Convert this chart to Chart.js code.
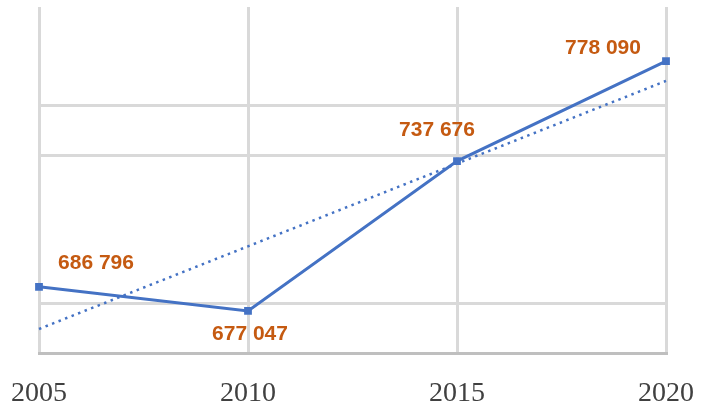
<!DOCTYPE html>
<html>
<head>
<meta charset="utf-8">
<script src="https://cdn.jsdelivr.net/npm/chart.js@4/dist/chart.umd.min.js"></script>
<style>
  html, body { margin: 0; padding: 0; background: #ffffff; }
  #wrap { width: 707px; height: 407px; position: relative; }
</style>
</head>
<body>
<div id="wrap"><canvas id="chart"></canvas></div>
<script>
const years = ["2005", "2010", "2015", "2020"]
const population = [686796, 677047, 737676, 778090]
const gridValues = [680000, 740000, 760000]

// linear trend (least squares) over the series
function linearTrend(values) {
  const n = values.length
  const mx = (n - 1) / 2
  const my = values.reduce((a, b) => a + b, 0) / n
  let num = 0, den = 0
  values.forEach((v, i) => { num += (i - mx) * (v - my); den += (i - mx) * (i - mx) })
  const slope = num / den
  return values.map((_, i) => my + slope * (i - mx))
}

const fmt = (v) => String(Math.round(v)).replace(/\B(?=(\d{3})+(?!\d))/g, " ")

// value labels next to each point of the first dataset
const valueLabels = {
  id: "valueLabels",
  afterDatasetsDraw(chart, args, opts) {
    const ctx = chart.ctx
    const meta = chart.getDatasetMeta(0)
    ctx.save()
    ctx.font = opts.font
    ctx.fillStyle = opts.color
    ctx.textAlign = "center"
    ctx.textBaseline = "middle"
    meta.data.forEach((pt, i) => {
      const off = opts.offsets[i]
      ctx.fillText(fmt(chart.data.datasets[0].data[i]), pt.x + off[0], pt.y + off[1])
    })
    ctx.restore()
  }
}

const ctx = document.getElementById("chart").getContext("2d")
new Chart(ctx, {
  type: "line",
  data: {
    labels: years,
    datasets: [
      {
        label: "Population",
        data: population,
        borderColor: "#4472c4",
        backgroundColor: "#4472c4",
        borderWidth: 3,
        pointStyle: "rect",
        pointRadius: 5.5,
        pointBorderWidth: 0,
        tension: 0,
        order: 0,
      },
      {
        label: "Trend",
        data: linearTrend(population),
        borderColor: "#4472c4",
        borderWidth: 2.5,
        borderDash: [2.5, 4.5],
        pointRadius: 0,
        tension: 0,
        order: 1,
      },
    ],
  },
  options: {
    responsive: true,
    maintainAspectRatio: false,
    animation: false,
    layout: { padding: { left: 39, right: 41, top: 7, bottom: 0 } },
    scales: {
      x: {
        offset: false,
        grid: { color: "#d9d9d9", lineWidth: 3, drawTicks: false },
        border: { color: "#bfbfbf", width: 3 },
        ticks: {
          padding: 24,
          color: "#404040",
          font: { family: "'Liberation Serif', serif", size: 28 },
          maxRotation: 0,
        },
        afterFit: (scale) => {
          scale.height = 54
          scale.paddingLeft = 0
          scale.paddingRight = 0
        },
      },
      y: {
        min: 660000,
        max: 800000,
        ticks: { stepSize: 20000, display: false },
        border: { display: false },
        grid: {
          drawTicks: false,
          lineWidth: 3,
          color: (c) => gridValues.includes(c.tick && c.tick.value) ? "#d9d9d9" : "rgba(0,0,0,0)",
        },
        afterFit: (scale) => { scale.width = 0 },
      },
    },
    plugins: {
      legend: { display: false },
      tooltip: { enabled: false },
      valueLabels: {
        font: "bold 21px 'Liberation Sans', Arial, sans-serif",
        color: "#c55a11",
        offsets: [[57, -24], [2, 23], [-20, -31], [-63, -13]],
      },
    },
  },
  plugins: [valueLabels],
})
</script>
</body>
</html>
